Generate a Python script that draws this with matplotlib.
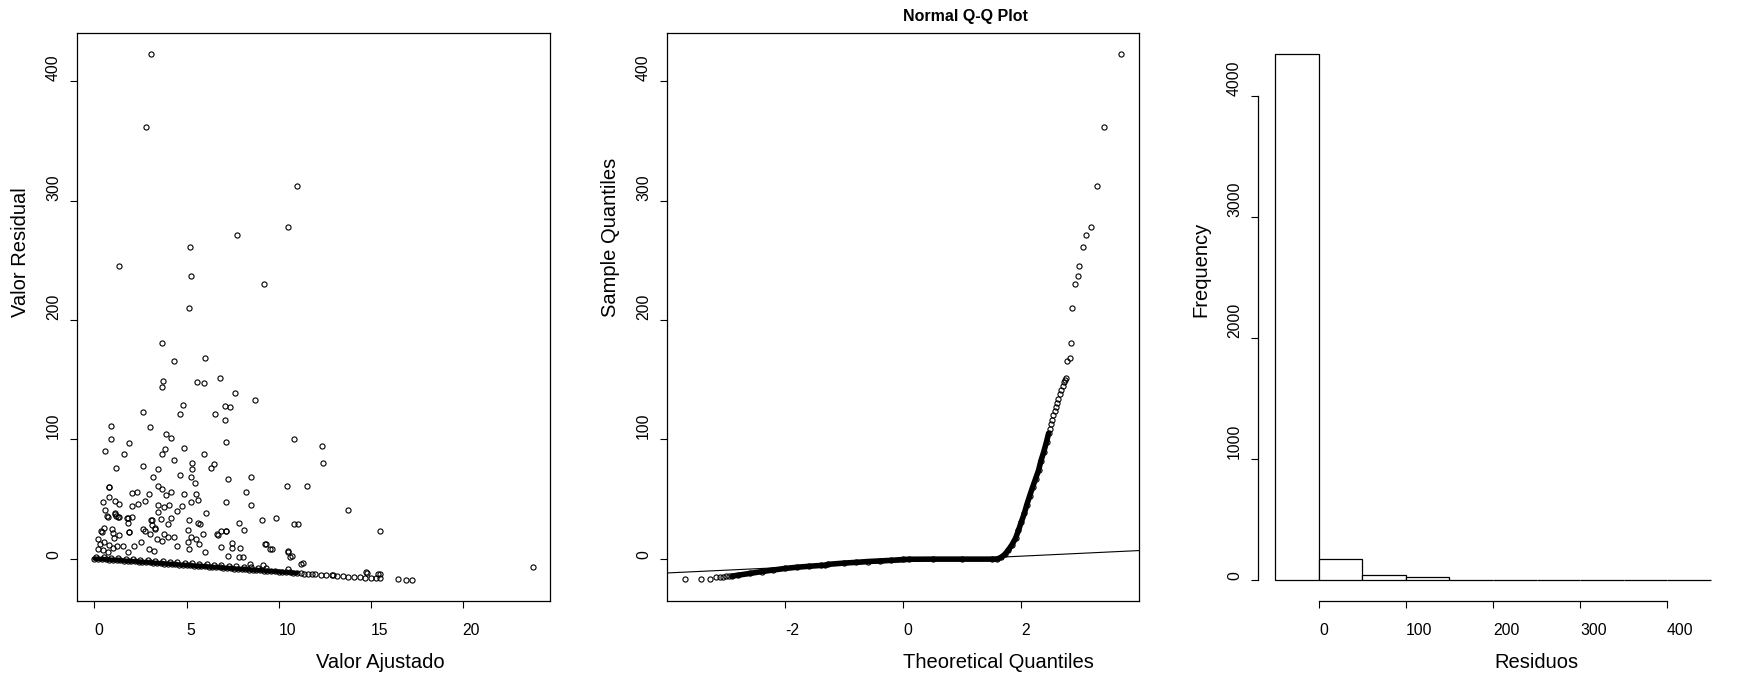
import numpy as np
import matplotlib
matplotlib.use("Agg")
import matplotlib.pyplot as plt

# ---- data ----
# panel 1: residuals vs fitted (points away from the dense band)
fit_out = [3.06, 2.79, 11.02, 10.54, 7.73, 5.18, 5.24, 1.31, 9.19, 5.11,
           3.66, 5.99, 4.30, 6.80, 3.74, 3.66, 5.59, 5.93, 7.61, 8.73,
           4.80, 7.09, 7.34, 2.64, 4.66, 6.53, 7.07, 0.91, 3.04, 3.87,
           4.18, 0.91, 10.83, 7.15, 1.85, 12.37, 3.83, 4.84, 0.56, 1.62,
           3.66, 5.93, 4.30, 5.32, 6.47, 12.43, 2.64, 1.16, 5.32, 3.43,
           6.31, 4.64, 8.48, 3.18, 5.24, 7.28, 5.45, 10.48, 11.54, 3.43,
           3.66, 0.81, 0.78, 8.25, 2.31, 2.04, 4.16, 2.97, 4.84, 5.53,
           3.87, 0.81, 5.61, 0.44, 1.14, 2.72, 7.13, 1.31, 2.35, 3.45,
           8.48, 2.04, 4.03, 5.22, 4.76, 3.80, 13.78, 0.56, 4.47, 6.07,
           1.10, 3.43, 1.16, 1.33, 0.73, 2.04, 1.83, 3.62, 9.88, 4.16,
           9.09, 3.10, 5.11, 7.86, 5.61, 1.83, 4.01, 5.74, 10.83, 11.08,
           15.51, 8.13, 6.88, 7.17, 5.09, 2.77, 0.35, 1.89, 6.69, 3.10,
           3.31, 9.33, 9.63, 10.54, 10.71, 11.31, 23.80, 14.82, 16.47, 16.92,
           17.26, 15.49]
res_out = [423, 362, 312, 278, 271, 261, 237, 245, 230, 210,
           181, 168, 166, 151, 149, 144, 148, 147, 139, 133,
           129, 128, 127, 123, 121, 121, 116, 111, 110, 104,
           101, 100, 100, 98, 97, 94, 92, 93, 90, 88,
           88, 88, 83, 80, 79, 80, 78, 76, 75, 75,
           76, 70, 68, 68, 68, 67, 63, 61, 61, 61,
           58, 60, 60, 56, 56, 55, 56, 54, 54, 54,
           53, 52, 49, 47, 48, 48, 47, 46, 46, 45,
           45, 44, 45, 47, 44, 43, 41, 41, 40, 38,
           38, 39, 36, 35, 35, 35, 34, 33, 34, 34,
           32, 32, 32, 30, 30, 30, 29, 29, 29, 29,
           23, 24, 23, 23, 24, 23, 23, 22, 20, 28,
           25, 12, 8, 6, 2, -4, -7, -12, -17, -18,
           -18, -13]

# small positive residuals just above the band
fit_low = [0.68, 1.10, 1.29, 0.39, 0.53, 0.93, 1.02, 1.08, 1.33, 0.17,
           0.30, 0.53, 0.80, 0.17, 0.48, 0.75, 1.02, 1.24, 1.53, 1.84,
           1.87, 1.75, 2.14, 2.52, 2.65, 3.05, 3.30, 3.00, 3.37, 2.97,
           3.25, 3.65, 3.79, 4.00, 4.33, 4.46, 5.09, 5.22, 5.49, 5.67,
           5.13, 5.90, 6.03, 6.68, 6.86, 7.17, 7.48, 7.48, 7.90, 7.26,
           7.84, 8.08, 8.44, 9.16, 9.29, 9.56, 10.50, 10.64, 11.24, 10.52,
           14.77, 15.40, 12.96]
res_low = [36, 37, 35, 22.5, 25.6, 24.5, 21, 17, 19.4, 16,
           12, 14, 11.3, 8, 7, 5.7, 8.5, 10.7, 10.7, 5.7,
           22, 33.7, 10.7, 13.6, 24.7, 32, 25.8, 20.5, 16.3, 7.7,
           6.5, 14.4, 20.3, 17.8, 18.3, 10.5, 13.8, 18.3, 16, 11.9,
           7.7, 20.3, 5.2, 20.3, 9.9, 23.3, 12.7, 9, 9, 2.4,
           1.5, 1.5, -4.6, -5.4, 11.9, 7.7, 5.7, 1.5, -4.9, -9,
           -11, -13, -13.8]

fit_band = [0.0, 0.2, 0.4, 0.6, 0.8, 1.0, 1.2, 1.4, 1.6, 1.8,
            2.0, 2.2, 2.4, 2.6, 2.8, 3.0, 3.2, 3.4, 3.6, 3.8,
            4.0, 4.2, 4.4, 4.6, 4.8, 5.0, 5.2, 5.4, 5.6, 5.8,
            6.0, 6.2, 6.4, 6.6, 6.8, 7.0, 7.2, 7.4, 7.6, 7.8,
            8.0, 8.2, 8.4, 8.6, 8.8, 9.0, 9.2, 9.4, 9.6, 9.8,
            10.0, 10.2, 10.4, 10.6, 10.8, 11.0, 11.2, 11.4, 11.6, 11.8,
            12.0, 12.3, 12.6, 12.9, 13.2, 13.5, 13.8, 14.1, 14.4, 14.7,
            15.0, 15.3, 15.5,
            0.1, 0.5, 0.9, 1.3, 1.7, 2.1, 2.5, 2.9, 3.3, 3.7,
            4.1, 4.5, 4.9, 5.3, 5.7, 6.1, 6.5, 6.9, 7.3, 7.7,
            8.1, 8.5, 8.9, 9.3]
res_band = [-0.1, -0.3, -0.5, -0.7, -0.9, -1.1, -1.3, -1.6, -1.8, -2.0,
            -2.2, -2.4, -2.7, -2.9, -3.1, -3.3, -3.5, -3.8, -4.0, -4.2,
            -4.4, -4.6, -4.9, -5.1, -5.3, -5.5, -5.7, -6.0, -6.2, -6.4,
            -6.6, -6.8, -7.1, -7.3, -7.5, -7.7, -7.9, -8.2, -8.4, -8.6,
            -8.8, -9.0, -9.3, -9.5, -9.7, -9.9, -10.1, -10.4, -10.6, -10.8,
            -11.0, -11.2, -11.5, -11.7, -11.9, -12.1, -12.3, -12.6, -12.8, -13.0,
            -13.2, -13.5, -13.8, -14.1, -14.5, -14.8, -15.1, -15.3, -15.6, -16.0,
            -16.2, -16.5, -16.7,
            1.5, 1.2, 0.8, 0.3, -0.2, -0.6, -1.0, -1.4, -1.9, -2.3,
            -2.7, -3.1, -3.6, -4.0, -4.4, -4.9, -5.3, -5.7, -6.2, -6.6,
            -7.0, -7.5, -7.9, -8.3]
band_solid_end = 56   # the band looks solid black up to fitted ~11

# panel 2: normal Q-Q plot
qq_body_x = [-2.90, -2.80, -2.60, -2.40, -2.20, -2.00, -1.80, -1.60,
             -1.40, -1.32, -1.28, -1.00, -0.80, -0.60, -0.40, -0.20, 0.00, 0.10,
             0.50, 1.00, 1.50, 1.59, 1.66, 1.72, 1.78, 1.84, 1.90, 1.95,
             2.00, 2.05, 2.09, 2.14, 2.19, 2.24, 2.29, 2.33, 2.375, 2.425,
             2.46]
qq_body_y = [-14.7, -14.0, -12.5, -11.0, -9.6, -8.3, -7.3, -6.5,
             -5.8, -5.6, -4.9, -3.8, -3.2, -2.5, -2.0, -1.5, -0.8, -0.6,
             -0.5, -0.5, -0.5, -0.4, 1.1, 3.6, 7.3, 11.6, 17, 23.6,
             31, 38, 45, 52.6, 60, 67, 74, 82, 89, 98,
             105]
qq_tail_x = [-3.70, -3.42, -3.275, -3.17, -3.10, -3.05, -3.00, -2.95,
             2.48, 2.50, 2.52, 2.54, 2.56, 2.58, 2.60, 2.625, 2.65, 2.675,
             2.70, 2.72, 2.74, 2.76, 2.77, 2.82, 2.84, 2.86, 2.90, 2.95,
             2.98, 3.04, 3.09, 3.17, 3.275, 3.40, 3.69]
qq_tail_y = [-17.4, -17.4, -17.4, -15.8, -15.5, -15.2, -15.0, -14.8,
             109, 112.5, 116, 120, 123.5, 127, 130.5, 134, 138, 141.6,
             145, 148, 150, 151, 166, 168, 181, 210, 230, 237,
             245, 261, 271, 278, 312, 362, 423]
qq_line_intercept = -2.7
qq_line_slope = 2.35

# panel 3: histogram of residuals
hist_edges = [-50, 0, 50, 100, 150, 200, 250, 300, 350, 400, 450]
hist_counts = [4347, 172, 39, 21, 4, 4, 3, 1, 1, 1]

# ---- style ----
W, H = 1761, 679
plt.rcParams.update({
    "font.family": ["Liberation Sans", "DejaVu Sans"],
    "axes.unicode_minus": False,
    "axes.linewidth": 0.9,
    "xtick.major.size": 5,
    "ytick.major.size": 5,
    "xtick.major.width": 0.8,
    "ytick.major.width": 0.8,
    "xtick.labelsize": 11.3,
    "ytick.labelsize": 11.3,
    "xtick.major.pad": 11,
    "ytick.major.pad": 6.5,
})
LAB_SIZE = 14.5

fig = plt.figure(figsize=(W / 100, H / 100), dpi=100)


def px_axes(x0, x1, y0=33, y1=601):
    return fig.add_axes([x0 / W, 1 - y1 / H, (x1 - x0) / W, (y1 - y0) / H])


def r_ticks(ax):
    # R draws the labels starting at the tick
    for lab in ax.get_xticklabels():
        lab.set_ha('left')
    for lab in ax.get_yticklabels():
        lab.set_rotation(90)
        lab.set_va('bottom')
        lab.set_ha('right')


mk = dict(ls='none', marker='o', ms=3.7, mfc='none', mec='black', mew=0.8)

# panel 1
ax1 = px_axes(77, 550)
ax1.plot(fit_band[:band_solid_end], res_band[:band_solid_end], '-', color='black',
         lw=3.2, solid_capstyle='round')
ax1.plot(fit_band, res_band, **mk)
ax1.plot(fit_low, res_low, **mk)
ax1.plot(fit_out, res_out, **mk)
ax1.set_xlim(-0.95, 24.75)
ax1.set_ylim(-35.6, 440.6)
ax1.set_xticks([0, 5, 10, 15, 20])
ax1.set_yticks([0, 100, 200, 300, 400])
r_ticks(ax1)

# panel 2
ax2 = px_axes(667, 1139)
ax2.plot(qq_body_x, qq_body_y, '-', color='black', lw=4.0, solid_capstyle='round')
ax2.plot(qq_body_x, qq_body_y, **mk)
ax2.plot(qq_tail_x, qq_tail_y, **mk)
ax2.axline((0, qq_line_intercept), slope=qq_line_slope, color='black', lw=0.8)
ax2.set_xlim(-4.0, 3.99)
ax2.set_ylim(-35.6, 440.6)
ax2.set_xticks([-2, 0, 2])
ax2.set_yticks([0, 100, 200, 300, 400])
r_ticks(ax2)

# panel 3
ax3 = px_axes(1258, 1728)
ax3.bar(hist_edges[:-1], hist_counts, width=np.diff(hist_edges), align='edge',
        facecolor='white', edgecolor='black', lw=0.9)
ax3.set_xlim(-70, 470)
ax3.set_ylim(-173.6, 4521)
ax3.set_xticks([0, 100, 200, 300, 400])
ax3.set_yticks([0, 1000, 2000, 3000, 4000])
for s in ['top', 'right']:
    ax3.spines[s].set_visible(False)
ax3.spines['left'].set_bounds(0, 4000)
ax3.spines['bottom'].set_bounds(0, 400)
r_ticks(ax3)

# axis labels start at the centre point, as the R device drew them
lab = dict(fontsize=LAB_SIZE, ha='left', va='center')
fig.text(316 / W, 1 - 663 / H, 'Valor Ajustado', **lab)
fig.text(903 / W, 1 - 663 / H, 'Theoretical Quantiles', **lab)
fig.text(1494 / W, 1 - 663 / H, 'Residuos', **lab)
ylab = dict(fontsize=LAB_SIZE, rotation=90, rotation_mode='anchor', ha='left', va='center')
fig.text(20 / W, 1 - 317 / H, 'Valor Residual', **ylab)
fig.text(610 / W, 1 - 317 / H, 'Sample Quantiles', **ylab)
fig.text(1201 / W, 1 - 317 / H, 'Frequency', **ylab)
fig.text(903 / W, 1 - 17 / H, 'Normal Q-Q Plot', fontsize=11.5, fontweight='bold',
         ha='left', va='center')

fig.savefig('out.png', dpi=100)
